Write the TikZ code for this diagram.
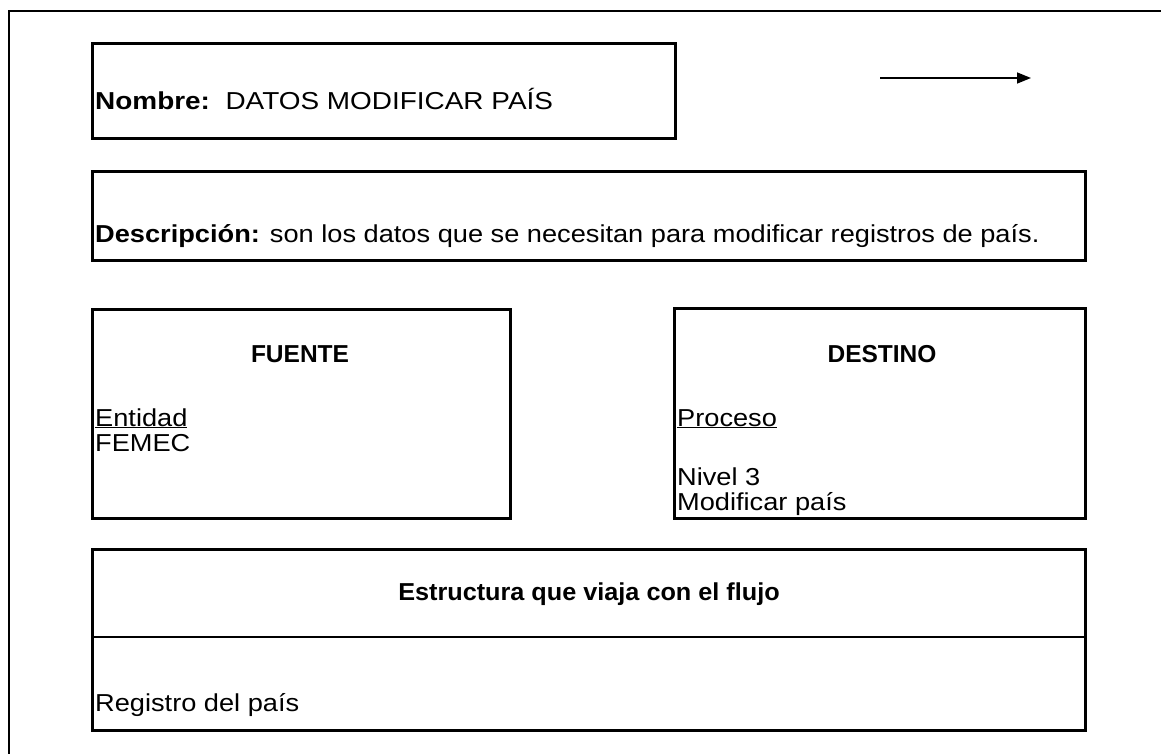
\documentclass[tikz,border=0pt]{standalone}
\usepackage{fontspec}
\setmainfont{Liberation Sans}
\usetikzlibrary{arrows.meta}
\newcommand{\wide}[1]{\scalebox{1.11}[1]{#1}}
\newcommand{\wideb}[1]{\scalebox{1.0}[1]{#1}}
\tikzset{
  box/.style={draw=black, line width=2.6pt, inner sep=0pt, anchor=north west},
  txt/.style={anchor=base west, inner sep=0pt, font=\fontsize{24.5}{28}\selectfont},
  ctxt/.style={anchor=base, inner sep=0pt, font=\fontsize{24.5}{28}\selectfont\bfseries},
}
\begin{document}
\begin{tikzpicture}[x=1pt,y=-1pt]
\clip (0,0) rectangle (1161,754);
\fill[white] (0,0) rectangle (1161,754);
% outer frame
\draw[line width=2.6pt] (9,770) -- (9,11) -- (1175,11);
% Nombre
\node[box, minimum width=583pt, minimum height=95pt] (nombre) at (91,42) {};
\node[txt] (nombretxt) at (95,110) {\scalebox{1.14}[1]{\textbf{Nombre:}\ \ DATOS MODIFICAR PAÍS}};
% arrow
\coordinate (a1) at (880,78);
\coordinate (a2) at (1031,78);
\draw[line width=1.5pt, -{Triangle[length=14pt,width=11pt]}] (a1) -- (a2);
% Descripcion
\node[box, minimum width=993pt, minimum height=89pt] (desc) at (91,170) {};
\node[txt] (desctxt) at (95,242) {\wide{\textbf{Descripción:} son los datos que se necesitan para modificar registros de país.}};
% Fuente
\node[box, minimum width=418pt, minimum height=209pt] (fuente) at (91,308) {};
\node[ctxt] (fuentet) at (300,362) {\wideb{FUENTE}};
\node[txt] (entidad) at (95,426) {\wide{\underline{Entidad}}};
\node[txt] (femec) at (95,451) {\wide{FEMEC}};
% Destino
\node[box, minimum width=411pt, minimum height=210pt] (destino) at (673,307) {};
\node[ctxt] (destinot) at (882,362) {\wideb{DESTINO}};
\node[txt] (proceso) at (677,426) {\wide{\underline{Proceso}}};
\node[txt] (nivel) at (677,485) {\wide{Nivel 3}};
\node[txt] (modif) at (677,510) {\wide{Modificar país}};
% Estructura
\node[box, minimum width=993pt, minimum height=181pt] (estr) at (91,548) {};
\draw[line width=2.6pt] (estr.west |- 0,637) coordinate (d1) -- (estr.east |- 0,637) coordinate (d2);
\node[ctxt] (estrt) at (589,600) {\scalebox{1.03}[1]{Estructura que viaja con el flujo}};
\node[txt] (registro) at (95,711) {\wide{Registro del país}};
\end{tikzpicture}
\end{document}
